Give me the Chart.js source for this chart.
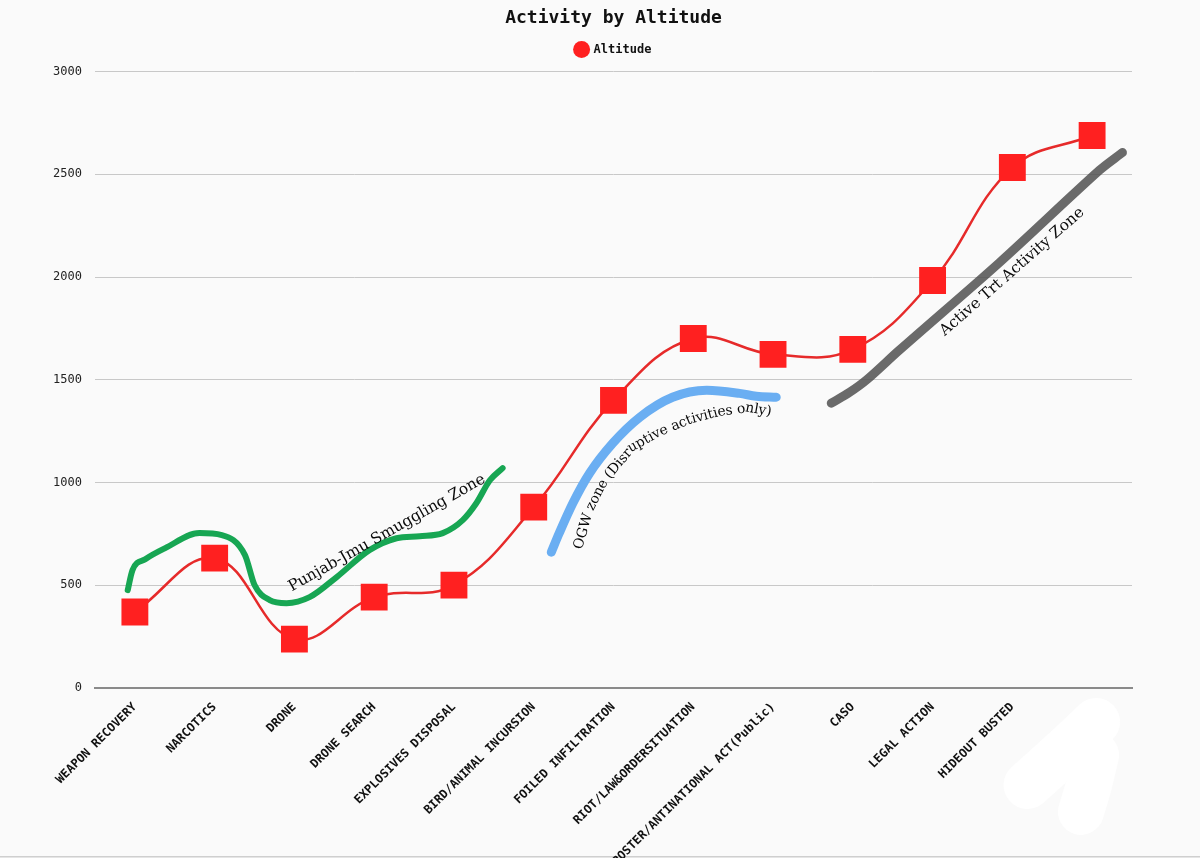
<!DOCTYPE html>
<html><head><meta charset="utf-8">
<script src="https://cdn.jsdelivr.net/npm/chart.js@4.4.0/dist/chart.umd.min.js"></script>
<style>html,body{margin:0;padding:0;background:#fafafa;overflow:hidden}#wrap{width:1200px;height:858px}</style>
</head><body><div id="wrap"><canvas id="c" width="1200" height="858"></canvas></div>
<script>
// ---- data ----
const categories = ['WEAPON RECOVERY','NARCOTICS','DRONE','DRONE SEARCH','EXPLOSIVES DISPOSAL','BIRD/ANIMAL INCURSION','FOILED INFILTRATION','RIOT/LAW&ORDERSITUATION','POSTER/ANTINATIONAL ACT(Public)','CASO','LEGAL ACTION','HIDEOUT BUSTED',''];
const altitude = [370, 632, 238, 442, 501, 880, 1400, 1701, 1624, 1648, 1983, 2533, 2689];
const yMin = 0, yMax = 3000, yStep = 500;

// hand-drawn zone strokes (x = category index, y = altitude)
const punjabX = [-0.09,-0.03,0.13,0.38,0.81,1.09,1.38,1.50,1.69,1.90,2.19,2.53,2.94,3.28,3.57,3.86,4.11,4.28,4.45,4.61];
const punjabY = [476,574,627,681,754,744,647,501,428,413,442,540,671,729,739,754,817,899,1011,1070];
const ogwX = [5.22,5.32,5.49,5.70,5.99,6.33,6.74,7.17,7.58,7.79,8.04];
const ogwY = [661,754,899,1045,1191,1318,1415,1449,1434,1420,1415];
const trtX = [8.73,8.96,9.18,9.58,10.84,12.09,12.38];
const trtY = [1386,1439,1502,1643,2071,2519,2606];
const eraseAX = [11.19,11.65,12.05], eraseAY = [-472,-311,-165];
const eraseBX = [11.86,11.96,12.05], eraseBY = [-603,-472,-326];

// zone labels
const punjabLabel = 'Punjab-Jmu Smuggling Zone';
const punjabLabelLine = {x:[1.94,4.38], y:[486,1021]};
const trtLabel = 'Active Trt Activity Zone';
const trtLabelLine = {x:[10.12,11.875], y:[1726,2324]};
const ogwLabel = 'OGW zone (Disruptive activities only)';
const ogwLabelPathX = [5.56,5.70,5.89,6.24,6.58,6.95,7.33,7.70,7.98];
const ogwLabelPathY = [676,865,1011,1172,1245,1303,1342,1361,1342];

const pts = (xs, ys) => xs.map((x,i)=>({x, y: ys[i]}));
const MONO = '"DejaVu Sans Mono", monospace';
const TYPE = '"DejaVu Serif", serif';

function stroke(label, data, color, width, tension) {
  return {label, data, xAxisID:'x2', borderColor:color, borderWidth:width, pointRadius:0,
    tension:tension, borderCapStyle:'round', borderJoinStyle:'round',
    fill:false, order:2, clip:false};
}

const bgPlugin = {
  id:'bg',
  beforeDraw(chart){
    const c = chart.ctx; c.save(); c.fillStyle='#fafafa'; c.fillRect(0,0,chart.width,chart.height);
    c.fillStyle='#cfcfcf'; c.fillRect(0,chart.height-2,chart.width,1.5); c.restore();
  }
};

function fitFont(ctx, text, len, style){
  ctx.font = style + ' 20px ' + TYPE;
  const w = ctx.measureText(text).width;
  return style + ' ' + (20*len/w).toFixed(2) + 'px ' + TYPE;
}
function drawStraight(ctx, chart, text, line, style){
  const xs = chart.scales.x2, ys = chart.scales.y;
  const x0 = xs.getPixelForValue(line.x[0]), y0 = ys.getPixelForValue(line.y[0]);
  const x1 = xs.getPixelForValue(line.x[1]), y1 = ys.getPixelForValue(line.y[1]);
  ctx.save();
  ctx.font = fitFont(ctx, text, Math.hypot(x1-x0,y1-y0), style);
  ctx.fillStyle = '#0a0a0a'; ctx.textAlign='center'; ctx.textBaseline='middle';
  ctx.translate((x0+x1)/2,(y0+y1)/2); ctx.rotate(Math.atan2(y1-y0,x1-x0));
  ctx.fillText(text,0,0); ctx.restore();
}
function drawAlong(ctx, chart, text, px, py, style){
  const xs = chart.scales.x2, ys = chart.scales.y;
  const P = px.map((v,i)=>[xs.getPixelForValue(v), ys.getPixelForValue(py[i])]);
  const cum=[0];
  for(let i=1;i<P.length;i++) cum.push(cum[i-1]+Math.hypot(P[i][0]-P[i-1][0],P[i][1]-P[i-1][1]));
  const total = cum[cum.length-1];
  ctx.save(); ctx.font = fitFont(ctx, text, total, style);
  ctx.fillStyle='#0a0a0a'; ctx.textAlign='center'; ctx.textBaseline='middle';
  const tw = ctx.measureText(text).width;
  const spacing = total / tw;
  let s = 0;
  const at = d => {
    let i=1; while(i<cum.length-1 && cum[i]<d) i++;
    const t=(d-cum[i-1])/(cum[i]-cum[i-1]);
    const a0 = Math.atan2(P[i][1]-P[i-1][1],P[i][0]-P[i-1][0]);
    return [P[i-1][0]+(P[i][0]-P[i-1][0])*t, P[i-1][1]+(P[i][1]-P[i-1][1])*t, a0];
  };
  for(const ch of text){
    const w = ctx.measureText(ch).width*spacing;
    const [x,y,a] = at(s+w/2);
    ctx.save(); ctx.translate(x,y); ctx.rotate(a); ctx.fillText(ch,0,0); ctx.restore();
    s+=w;
  }
  ctx.restore();
}
const labelPlugin = {
  id:'zoneLabels',
  afterDatasetsDraw(chart){
    const ctx = chart.ctx;
    drawStraight(ctx, chart, punjabLabel, punjabLabelLine, 'normal');
    drawStraight(ctx, chart, trtLabel, trtLabelLine, 'normal');
    drawAlong(ctx, chart, ogwLabel, ogwLabelPathX, ogwLabelPathY, 'normal');
  }
};

new Chart(document.getElementById('c'), {
  type:'line',
  data:{
    labels: categories,
    datasets:[
      {label:'Altitude', data: altitude, xAxisID:'x', yAxisID:'y', borderColor:'#e62a2a', backgroundColor:'#ff1f1f',
       borderWidth:2.5, pointStyle:'rect', pointRadius:19, pointHoverRadius:19, pointBorderWidth:0,
       pointBackgroundColor:'#ff2020', tension:0.4, order:0},
      Object.assign(stroke('punjab', pts(punjabX,punjabY), '#17a653', 6, 0.4), {cubicInterpolationMode:'monotone'}),
      Object.assign(stroke('ogw', pts(ogwX,ogwY), '#6aaef2', 9, 0.4), {cubicInterpolationMode:'monotone'}),
      stroke('trt', pts(trtX,trtY), 'rgba(80,80,80,0.85)', 9, 0.3),
      stroke('eraseA', pts(eraseAX,eraseAY), '#ffffff', 48, 0.3),
      stroke('eraseB', pts(eraseBX,eraseBY), '#ffffff', 46, 0.3)
    ]
  },
  options:{
    responsive:false, animation:false, devicePixelRatio:1,
    layout:{padding:{left:27,right:0,top:6,bottom:0}},
    plugins:{
      title:{display:true, text:'Activity by Altitude', color:'#111',
        font:{family:MONO, size:18, weight:'bold'}, padding:{top:2,bottom:-8}},
      legend:{display:true, labels:{usePointStyle:true, pointStyle:'circle', color:'#111',
        font:{family:MONO, size:12, weight:'bold'}, boxWidth:13, boxHeight:13, padding:22,
        filter:item=>item.datasetIndex===0}},
      tooltip:{enabled:false}
    },
    scales:{
      x:{type:'category', offset:true,
        grid:{display:false}, border:{display:true, color:'#8a8a8a', width:2},
        ticks:{color:'#111', autoSkip:false, minRotation:45, maxRotation:45, padding:4,
          font:{family:MONO, size:12, weight:'bold'}},
        afterFit(s){ s.height = 170; }},
      xTop:{type:'category', position:'top', offset:true,
        grid:{display:false, drawOnChartArea:false}, border:{display:false},
        ticks:{display:false},
        afterFit(s){ s.height = 6; }},
      x2:{type:'linear', display:false, min:-0.5, max:12.5, offset:false},
      y:{type:'linear', position:'left', min:yMin, max:yMax,
        grid:{color:'#c8c8c8', lineWidth:1, drawTicks:false}, border:{display:false},
        ticks:{stepSize:yStep, color:'#222', padding:13, font:{family:MONO, size:12},
          callback:v=>String(v)},
        afterFit(s){ s.width = 68; }},
      yRight:{type:'linear', position:'right', min:yMin, max:yMax,
        grid:{display:false, drawOnChartArea:false}, border:{display:false},
        ticks:{display:false},
        afterFit(s){ s.width = 68; }}
    }
  },
  plugins:[bgPlugin, labelPlugin]
});
</script></body></html>
